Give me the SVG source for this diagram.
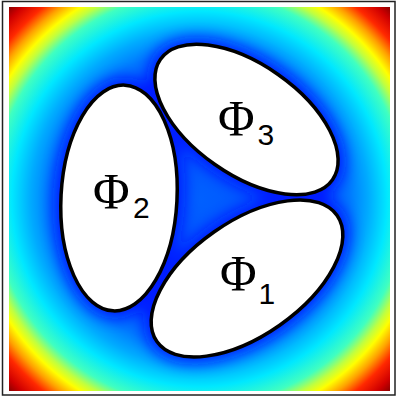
<svg xmlns="http://www.w3.org/2000/svg" width="397" height="398" viewBox="0 0 397 398">
<defs>
<radialGradient id="field" gradientUnits="userSpaceOnUse" cx="199.5" cy="199" r="272">
<stop offset="0" stop-color="#0060ff"/>
<stop offset="0.45" stop-color="#0048ff"/>
<stop offset="0.55" stop-color="#0078ff"/>
<stop offset="0.62" stop-color="#00aaff"/>
<stop offset="0.69" stop-color="#00e8ff"/>
<stop offset="0.76" stop-color="#40ffc0"/>
<stop offset="0.80" stop-color="#c0ff40"/>
<stop offset="0.83" stop-color="#ffff00"/>
<stop offset="0.87" stop-color="#ffa000"/>
<stop offset="0.91" stop-color="#ff2800"/>
<stop offset="0.96" stop-color="#d00000"/>
<stop offset="1" stop-color="#800000"/>
</radialGradient>
<filter id="blur" x="-30%" y="-30%" width="160%" height="160%">
<feGaussianBlur stdDeviation="7"/>
</filter>
<clipPath id="clip"><rect x="9" y="7" width="381" height="384"/></clipPath>
<style>
.phi{fill:#fff;stroke:#000;stroke-width:3.5}
.halo{fill:#0010ff}
.big{font-family:"Liberation Serif","Times New Roman",serif;font-size:50px;fill:#000}
.sub{font-family:"Liberation Sans",Arial,sans-serif;font-size:30px;fill:#000}
</style>
</defs>
<rect x="2.5" y="1.5" width="392.5" height="393.5" fill="#fff" stroke="#222" stroke-width="1.5"/>
<rect x="9" y="7" width="381" height="384" fill="url(#field)"/>
<g clip-path="url(#clip)" filter="url(#blur)" opacity="0.75">
<ellipse class="halo" cx="119" cy="198" rx="66" ry="121" transform="rotate(3 119 198)"/>
<ellipse class="halo" cx="246.5" cy="119.5" rx="113" ry="63" transform="rotate(35 246.5 119.5)"/>
<ellipse class="halo" cx="247" cy="278.5" rx="118" ry="65" transform="rotate(-35 247 278.5)"/>
</g>
<g id="connectors"></g>
<g id="phi2">
<ellipse class="phi" cx="119" cy="198" rx="58" ry="113" transform="rotate(3 119 198)"/>
<text class="big" x="93" y="208">Φ</text><text class="sub" x="133" y="218">2</text>
</g>
<g id="phi3">
<ellipse class="phi" cx="246.5" cy="119.5" rx="105" ry="55" transform="rotate(35 246.5 119.5)"/>
<text class="big" x="218" y="135">Φ</text><text class="sub" x="257.5" y="145">3</text>
</g>
<g id="phi1">
<ellipse class="phi" cx="247" cy="278.5" rx="110" ry="57" transform="rotate(-35 247 278.5)"/>
<text class="big" x="220" y="290">Φ</text><text class="sub" x="258.5" y="304">1</text>
</g>
</svg>
